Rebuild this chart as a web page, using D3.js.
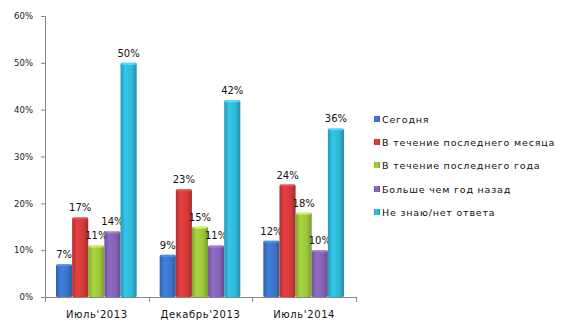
<!DOCTYPE html>
<html><head><meta charset="utf-8">
<script src="https://cdn.jsdelivr.net/npm/d3@7"></script>
<style>body{margin:0;background:#fff}svg{display:block}text{font-family:Tahoma,"DejaVu Sans",sans-serif}</style>
</head><body>
<svg id="c" width="565" height="331"></svg>
<script>
const categories = ["Июль'2013", "Декабрь'2013", "Июль'2014"];
const seriesNames = ["Сегодня", "В течение последнего месяца", "В течение последнего года", "Больше чем год назад", "Не знаю/нет ответа"];
const sToday = [7, 9, 12];
const sMonth = [17, 23, 24];
const sYear = [11, 15, 18];
const sMoreYear = [14, 11, 10];
const sDontKnow = [50, 42, 36];
const yTicks = [0, 10, 20, 30, 40, 50, 60];
const colors = ["#3c74c8", "#d23a3a", "#9cc43c", "#8462b4", "#2fb6d6"];
const seriesValues = [sToday, sMonth, sYear, sMoreYear, sDontKnow];

const svg = d3.select("#c");
const x = d3.scaleBand().domain(categories).range([45, 356]).paddingInner(0).paddingOuter(0);
const xs = d3.scaleBand().domain(d3.range(5)).range([11, x.bandwidth() - 12]).padding(0);
const y = d3.scaleLinear().domain([0, 60]).range([297, 16]);

const defs = svg.append("defs");
colors.forEach((c, i) => {
  const g = defs.append("linearGradient").attr("id", "g" + i).attr("x1", 0).attr("x2", 1).attr("y1", 0).attr("y2", 0);
  const col = d3.color(c);
  g.append("stop").attr("offset", "0%").attr("stop-color", col.darker(0.5));
  g.append("stop").attr("offset", "30%").attr("stop-color", col.brighter(0.25));
  g.append("stop").attr("offset", "70%").attr("stop-color", col);
  g.append("stop").attr("offset", "100%").attr("stop-color", col.darker(0.7));
});

// axes
const yAxis = d3.axisLeft(y).tickValues(yTicks).tickSize(4).tickFormat(d => d + "%");
const ga = svg.append("g").attr("transform", "translate(45,0)").call(yAxis);
ga.select(".domain").attr("stroke", "#888").attr("d", "M-4,16.5H0.5V297.5");
ga.selectAll(".tick line").attr("stroke", "#888");
ga.selectAll(".tick text").attr("font-size", 8.5).attr("fill", "#222").attr("x", -12);

const xAxis = d3.axisBottom(x).tickSize(0).tickSizeOuter(0);
const gx = svg.append("g").attr("transform", "translate(0,297)").call(xAxis);
gx.select(".domain").attr("stroke", "#888");
gx.selectAll(".tick text").attr("font-size", 10).attr("letter-spacing", 0.6).attr("fill", "#111").attr("dy", "1.75em");
// boundary ticks
const bounds = [45, 45 + x.bandwidth(), 45 + 2 * x.bandwidth(), 356];
svg.append("g").selectAll("line").data(bounds).join("line")
  .attr("x1", d => Math.round(d) + 0.5).attr("x2", d => Math.round(d) + 0.5)
  .attr("y1", 297).attr("y2", 302).attr("stroke", "#888");

// bars
const groups = svg.append("g").selectAll("g").data(categories).join("g")
  .attr("transform", d => `translate(${x(d)},0)`);
seriesValues.forEach((vals, si) => {
  groups.append("rect")
    .attr("x", xs(si)).attr("width", xs.bandwidth())
    .attr("y", (d, ci) => y(vals[ci])).attr("height", (d, ci) => y(0) - y(vals[ci]))
    .attr("rx", 1.5)
    .attr("fill", `url(#g${si})`);
  groups.append("rect")
    .attr("x", xs(si) + 1).attr("width", xs.bandwidth() - 2)
    .attr("y", (d, ci) => y(vals[ci])).attr("height", 2)
    .attr("fill", d3.color(colors[si]).brighter(0.8)).attr("opacity", 0.8);
  groups.append("text")
    .attr("x", xs(si) + xs.bandwidth() / 2)
    .attr("y", (d, ci) => y(vals[ci]) - 6)
    .attr("text-anchor", "middle").attr("font-size", 10).attr("fill", "#111")
    .text((d, ci) => vals[ci] + "%");
});

// legend
const leg = svg.append("g").attr("transform", "translate(374,0)");
const legY = [119, 142, 165, 189, 212];
seriesNames.forEach((n, i) => {
  leg.append("rect").attr("x", 0).attr("y", legY[i] - 3).attr("width", 6).attr("height", 6).attr("fill", `url(#g${i})`);
  leg.append("text").attr("x", 8).attr("y", legY[i] + 3.5).attr("font-size", 9.5).attr("letter-spacing", 0.8).attr("fill", "#111").text(n);
});
</script>
</body></html>
